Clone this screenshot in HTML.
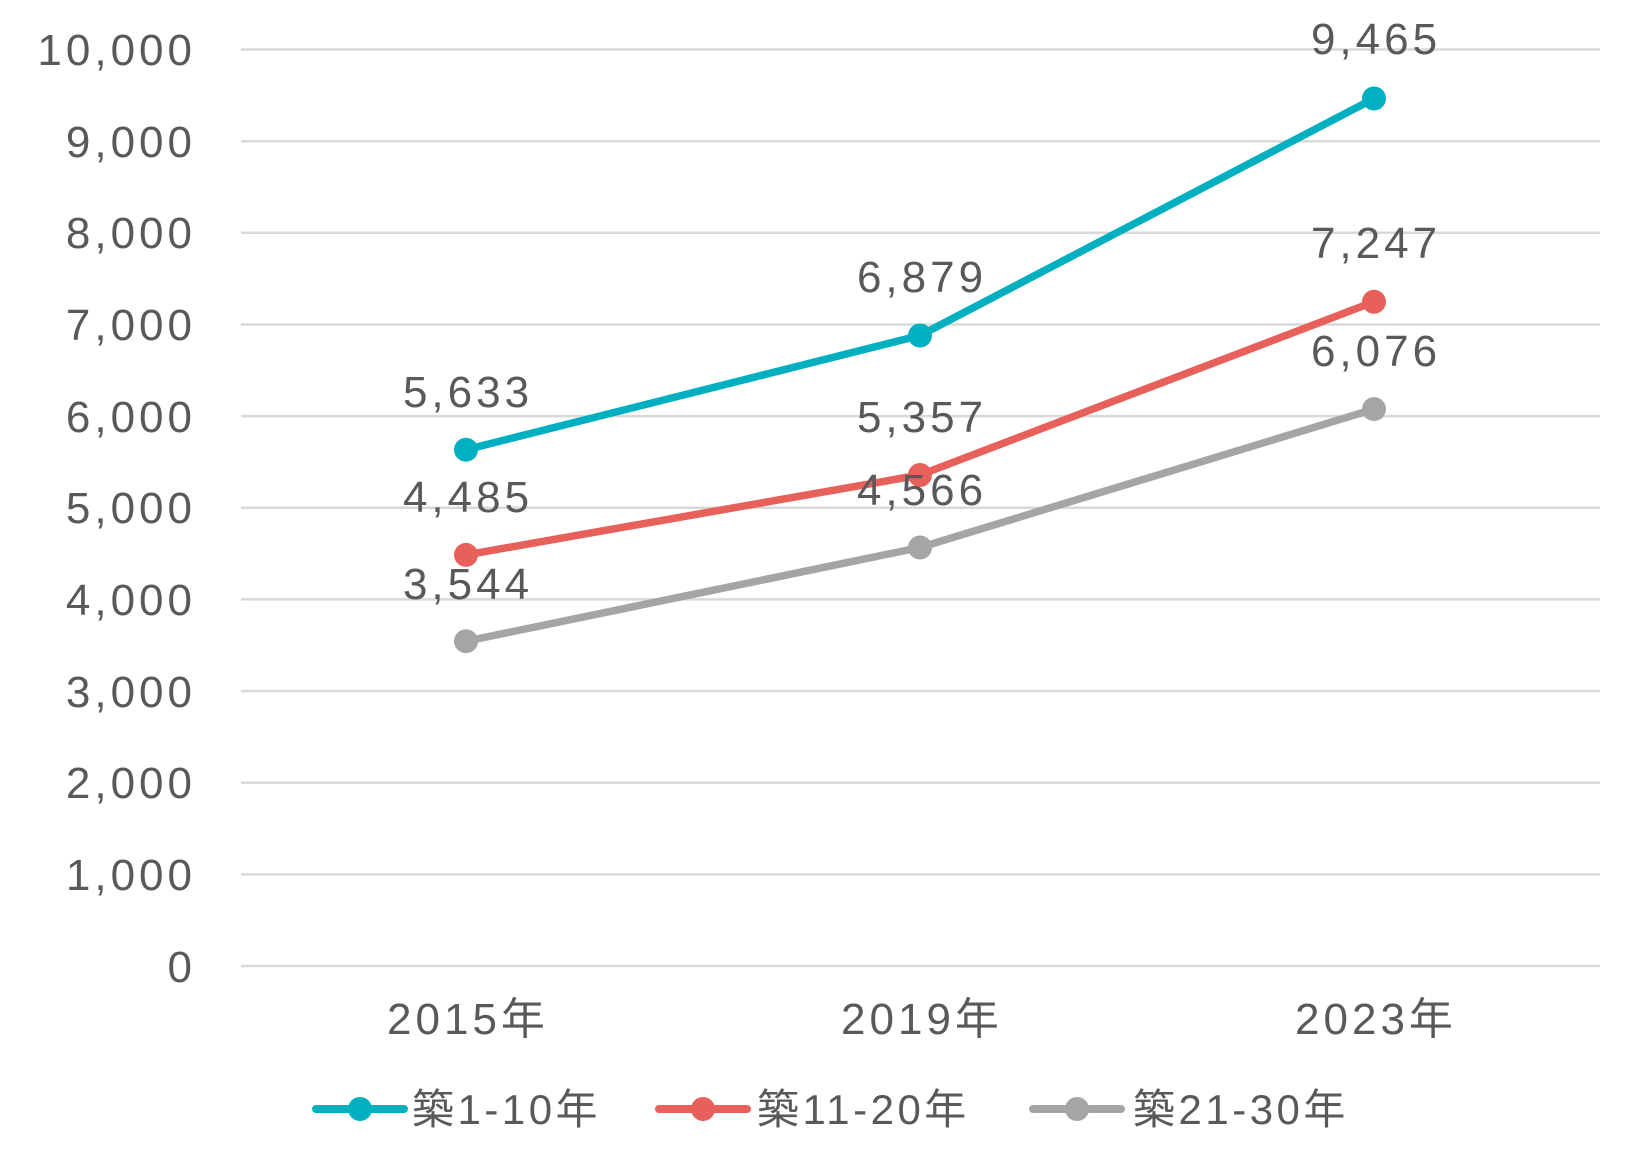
<!DOCTYPE html>
<html><head><meta charset="utf-8"><style>
html,body{margin:0;padding:0;background:#fff;}
svg text{font-family:"Liberation Sans","Noto Sans CJK JP",sans-serif;fill:#595959;}
</style></head><body>
<svg width="1650" height="1170" viewBox="0 0 1650 1170" xmlns="http://www.w3.org/2000/svg">
<g stroke="#d9d9d9" stroke-width="2.5">
<line x1="241" y1="49.5" x2="1600" y2="49.5"/>
<line x1="241" y1="141.2" x2="1600" y2="141.2"/>
<line x1="241" y1="232.8" x2="1600" y2="232.8"/>
<line x1="241" y1="324.5" x2="1600" y2="324.5"/>
<line x1="241" y1="416.1" x2="1600" y2="416.1"/>
<line x1="241" y1="507.8" x2="1600" y2="507.8"/>
<line x1="241" y1="599.4" x2="1600" y2="599.4"/>
<line x1="241" y1="691.1" x2="1600" y2="691.1"/>
<line x1="241" y1="782.7" x2="1600" y2="782.7"/>
<line x1="241" y1="874.4" x2="1600" y2="874.4"/>
<line x1="241" y1="966" x2="1600" y2="966"/>
</g>
<g font-size="44" text-anchor="end" letter-spacing="4">
<text x="196" y="65">10,000</text>
<text x="196" y="157">9,000</text>
<text x="196" y="248">8,000</text>
<text x="196" y="340">7,000</text>
<text x="196" y="432">6,000</text>
<text x="196" y="523">5,000</text>
<text x="196" y="615">4,000</text>
<text x="196" y="707">3,000</text>
<text x="196" y="798">2,000</text>
<text x="196" y="890">1,000</text>
<text x="196" y="982">0</text>
</g>
<g font-size="44" text-anchor="middle" letter-spacing="4">
<text x="468" y="1034">2015年</text>
<text x="922" y="1034">2019年</text>
<text x="1376" y="1034">2023年</text>
</g>
<g fill="none" stroke-width="7.5" stroke-linejoin="round">
<polyline stroke="#a5a5a5" points="466,641.2 920,547.5 1374,409.1"/>
<polyline stroke="#e8605a" points="466,554.9 920,475 1374,301.8"/>
<polyline stroke="#00b0c0" points="466,449.7 920,335.5 1374,98.5"/>
</g>
<g fill="#a5a5a5"><circle cx="466" cy="641.2" r="12"/><circle cx="920" cy="547.5" r="12"/><circle cx="1374" cy="409.1" r="12"/></g>
<g fill="#e8605a"><circle cx="466" cy="554.9" r="12"/><circle cx="920" cy="475" r="12"/><circle cx="1374" cy="301.8" r="12"/></g>
<g fill="#00b0c0"><circle cx="466" cy="449.7" r="12"/><circle cx="920" cy="335.5" r="12"/><circle cx="1374" cy="98.5" r="12"/></g>
<g font-size="44" text-anchor="middle" letter-spacing="4">
<text x="468" y="407">5,633</text>
<text x="922" y="292">6,879</text>
<text x="1376" y="54">9,465</text>
<text x="468" y="512">4,485</text>
<text x="922" y="432">5,357</text>
<text x="1376" y="258">7,247</text>
<text x="468" y="599">3,544</text>
<text x="922" y="505">4,566</text>
<text x="1376" y="366">6,076</text>
</g>
<g stroke-width="8" stroke-linecap="round">
<line x1="316" y1="1109" x2="404" y2="1109" stroke="#00b0c0"/>
<line x1="659" y1="1109" x2="747" y2="1109" stroke="#e8605a"/>
<line x1="1033" y1="1109" x2="1121" y2="1109" stroke="#a5a5a5"/>
</g>
<circle cx="360" cy="1109" r="12" fill="#00b0c0"/>
<circle cx="703" cy="1109" r="12" fill="#e8605a"/>
<circle cx="1077" cy="1109" r="12" fill="#a5a5a5"/>
<g font-size="42" letter-spacing="3.5">
<text x="412" y="1124">築1-10年</text>
<text x="757" y="1124">築11-20年</text>
<text x="1133" y="1124">築21-30年</text>
</g>
</svg>
</body></html>
